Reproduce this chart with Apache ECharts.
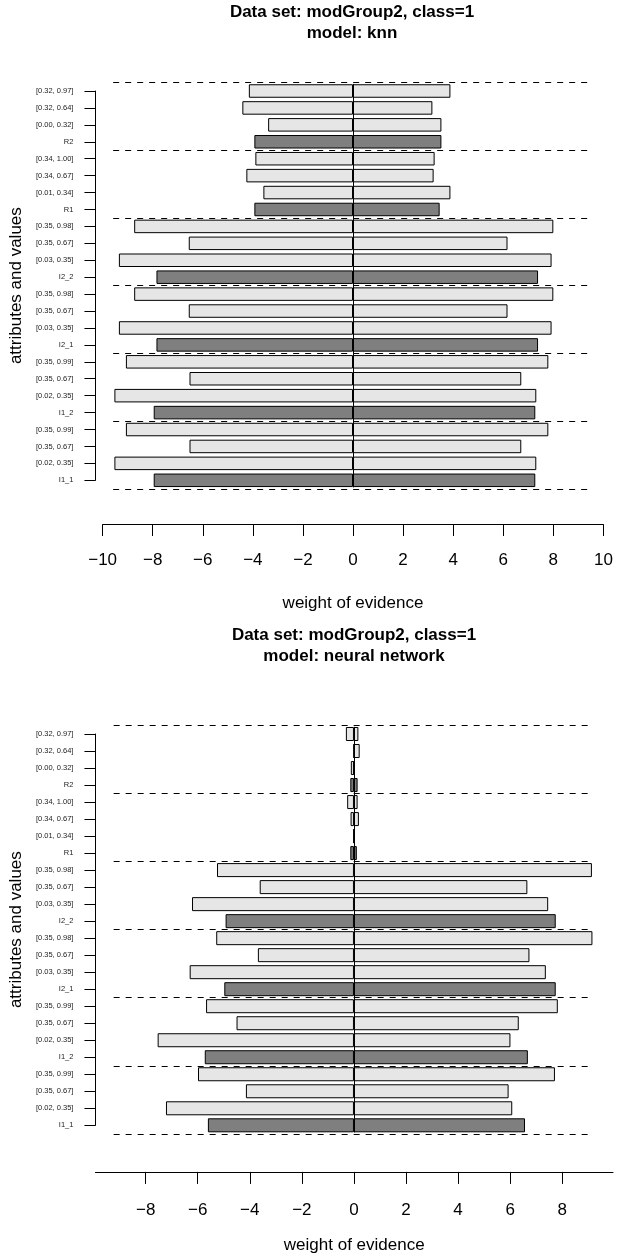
<!DOCTYPE html>
<html><head><meta charset="utf-8">
<script src="https://cdn.jsdelivr.net/npm/echarts@6/dist/echarts.min.js"></script>
<style>html,body{margin:0;padding:0;background:#fff}#c{width:624px;height:1256px}</style>
</head><body><div id="c"></div>
<script>
// rows listed bottom to top
const categories = ['I1_1','[0.02, 0.35]','[0.35, 0.67]','[0.35, 0.99]',
  'I1_2','[0.02, 0.35]','[0.35, 0.67]','[0.35, 0.99]',
  'I2_1','[0.03, 0.35]','[0.35, 0.67]','[0.35, 0.98]',
  'I2_2','[0.03, 0.35]','[0.35, 0.67]','[0.35, 0.98]',
  'R1','[0.01, 0.34]','[0.34, 0.67]','[0.34, 1.00]',
  'R2','[0.00, 0.32]','[0.32, 0.64]','[0.32, 0.97]'];
const attributes = ['I1_1','I1_2','I2_1','I2_2','R1','R2'];

const knnNeg = [-7.96,-9.53,-6.53,-9.07, -7.96,-9.53,-6.53,-9.07, -7.85,-9.35,-6.56,-8.74, -7.85,-9.35,-6.56,-8.74, -3.94,-3.58,-4.26,-3.90, -3.94,-3.39,-4.42,-4.16];
const knnPos = [7.28,7.32,6.72,7.80, 7.28,7.32,6.72,7.80, 7.39,7.93,6.17,8.00, 7.39,7.93,6.17,8.00, 3.46,3.89,3.22,3.26, 3.53,3.53,3.17,3.89];
const nnNeg = [-5.61,-7.22,-4.15,-5.99, -5.73,-7.54,-4.51,-5.68, -4.98,-6.31,-3.69,-5.29, -4.93,-6.22,-3.62,-5.26, -0.14,0,-0.13,-0.26, -0.14,-0.12,-0.01,-0.31];
const nnPos = [6.57,6.08,5.94,7.72, 6.68,6.01,6.33,7.83, 7.75,7.37,6.74,9.16, 7.75,7.46,6.66,9.14, 0.11,0,0.19,0.14, 0.14,0.01,0.22,0.17];

const knnTicks = [-10,-8,-6,-4,-2,0,2,4,6,8,10];
const nnTicks = [-8,-6,-4,-2,0,2,4,6,8];
const knnGuideRange = [-9.58, 9.38];
const nnGuideRange = [-9.23, 9.07];
const knnXRange = [-10, 10];
const nnXRange = [-9.93, 9.95];

const titles = ['Data set: modGroup2, class=1\nmodel: knn', 'Data set: modGroup2, class=1\nmodel: neural network'];

const FONT = 'Liberation Sans';
const LIGHT = '#e6e6e6', DARK = '#7f7f7f';

// separators: below each attribute row, plus top
const separators = categories.map((c, i) => attributes.includes(c) ? i - 0.5 : null).filter(v => v !== null);
separators.push(categories.length - 0.5);

const minus = v => String(v).replace('-', '\u2212');

function panel(idx, cfg) {
  const xA = {
    gridIndex: idx, type: 'value', min: cfg.xRange[0], max: cfg.xRange[1],
    offset: cfg.xOffset,
    axisLine: {show: true, onZero: false, lineStyle: {color: '#000', width: 1}},
    axisTick: {show: true, length: cfg.tickLen, lineStyle: {color: '#000'}, customValues: cfg.ticks},
    axisLabel: {show: true, fontSize: 17, fontFamily: FONT, color: '#000', margin: cfg.labelMargin, customValues: cfg.ticks, formatter: minus},
    splitLine: {show: false},
    name: 'weight of evidence', nameLocation: 'middle', nameGap: cfg.nameGap,
    nameTextStyle: {fontSize: 17, fontFamily: FONT, color: '#000'}
  };
  const yCat = {
    gridIndex: idx, type: 'category', data: categories, boundaryGap: false,
    offset: cfg.yOffset,
    axisLine: {show: true, onZero: false, lineStyle: {color: '#000', width: 1}},
    axisTick: {show: true, length: 11, alignWithLabel: true, lineStyle: {color: '#000'}},
    axisLabel: {show: true, interval: 0, fontSize: 7.5, fontFamily: FONT, color: '#222', margin: 22},
    splitLine: {show: false},
    name: 'attributes and values', nameLocation: 'middle', nameGap: 63,
    nameTextStyle: {fontSize: 17, fontFamily: FONT, color: '#000'}
  };
  const yVal = {gridIndex: idx, type: 'value', min: 0, max: categories.length - 1, show: false};
  const color = p => attributes.includes(categories[p.dataIndex]) ? DARK : LIGHT;
  const barBase = {
    type: 'bar', xAxisIndex: idx, yAxisIndex: idx * 2, barWidth: cfg.barWidth, barGap: '-100%',
    itemStyle: {color: color, borderColor: '#000', borderWidth: 1}, silent: true
  };
  const series = [
    Object.assign({}, barBase, {data: cfg.neg}),
    Object.assign({}, barBase, {data: cfg.pos}),
    {type: 'lines', coordinateSystem: 'cartesian2d', xAxisIndex: idx, yAxisIndex: idx * 2 + 1, clip: false, silent: true,
     lineStyle: {color: '#000', width: 1, type: [6, 6], opacity: 1},
     data: separators.map(s => ({coords: [[cfg.guide[0], s], [cfg.guide[1], s]]})), z: 5},
    {type: 'lines', coordinateSystem: 'cartesian2d', xAxisIndex: idx, yAxisIndex: idx * 2 + 1, clip: false, silent: true,
     lineStyle: {color: '#000', width: 1, type: 'solid', opacity: 1},
     data: [{coords: [[0, -0.42], [0, categories.length - 1 + 0.42]]}], z: 6}
  ];
  return {grid: cfg.grid, xAxis: xA, yAxis: [yCat, yVal], series: series};
}

const p1 = panel(0, {grid: {left: 102.5, width: 500.9, top: 91, height: 389.3}, xRange: knnXRange, ticks: knnTicks,
  xOffset: 44.2, yOffset: 7.2, tickLen: 11.5, barWidth: 13.5, neg: knnNeg, pos: knnPos, guide: knnGuideRange,
  labelMargin: 27, nameGap: 70});
const p2 = panel(1, {grid: {left: 95, width: 518, top: 734, height: 391.3}, xRange: nnXRange, ticks: nnTicks,
  xOffset: 46.6, yOffset: 0, tickLen: 12, barWidth: 14, neg: nnNeg, pos: nnPos, guide: nnGuideRange,
  labelMargin: 30, nameGap: 65});

const chart = echarts.init(document.getElementById('c'), null, {renderer: 'canvas'});
chart.setOption({
  animation: false,
  backgroundColor: '#fff',
  title: [
    {text: titles[0], left: 352, top: 2, padding: 0, textAlign: 'center',
     textStyle: {fontSize: 17, fontWeight: 'bold', fontFamily: FONT, color: '#000', lineHeight: 21}},
    {text: titles[1], left: 354, top: 625, padding: 0, textAlign: 'center',
     textStyle: {fontSize: 17, fontWeight: 'bold', fontFamily: FONT, color: '#000', lineHeight: 21}}
  ],
  grid: [Object.assign({containLabel: false}, p1.grid), Object.assign({containLabel: false}, p2.grid)],
  xAxis: [p1.xAxis, p2.xAxis],
  yAxis: [].concat(p1.yAxis, p2.yAxis),
  series: [].concat(p1.series, p2.series)
});
</script></body></html>
